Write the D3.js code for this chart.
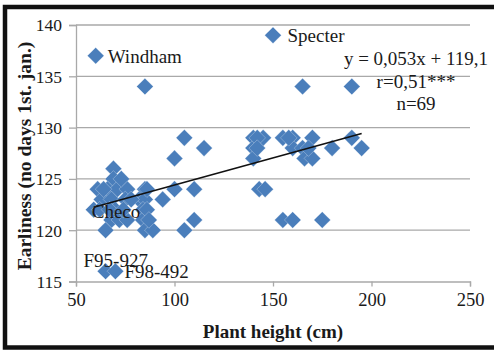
<!DOCTYPE html>
<html>
<head>
<meta charset="utf-8">
<script src="https://cdn.jsdelivr.net/npm/d3@7"></script>
<style>
  html, body { margin: 0; padding: 0; background: #fff; }
  svg { display: block; }
  text { font-family: "Liberation Serif", "Times New Roman", serif; fill: #1a1a1a; }
</style>
</head>
<body>
<svg id="chart" width="494" height="351"></svg>
<script>
// Plant height (cm) and earliness (days from 1 January) per genotype
const heights = [
  60, 150, 59, 65, 70,
  69, 69, 61, 66, 71, 76, 63, 68, 75, 70, 68, 72, 76, 65,
  82, 85, 85, 84, 84, 85, 89, 85,
  94, 100, 100, 105, 115, 110, 110, 105,
  140, 145, 140, 140, 143, 146,
  155, 160, 170, 190, 160, 165, 180, 195, 166, 170, 155, 160, 175, 165, 190,
  142, 142, 158, 168, 64, 73, 78, 86, 62, 67, 74, 87, 86
];
const earliness = [
  137, 139, 122, 116, 116,
  126, 125, 124, 124, 124, 124, 123, 123, 123, 122, 121, 121, 121, 120,
  123, 124, 123, 122, 121, 120, 120, 134,
  123, 124, 127, 129, 128, 124, 121, 120,
  129, 129, 128, 127, 124, 124,
  129, 129, 129, 129, 128, 128, 128, 128, 127, 127, 121, 121, 121, 134, 134,
  129, 128, 129, 128, 124, 125, 123, 122, 122, 122, 122, 121, 124
];
// Names shown next to selected genotypes (same order as the first entries above)
const names = ["Windham", "Specter", "Checo", "F95-927", "F98-492"];

// Linear regression reported on the chart
const slope = 0.053;
const intercept = 119.1;
const statLines = ["y = 0,053x + 119,1", "r=0,51***", "n=69"];

const xTicks = [50, 100, 150, 200, 250];
const yTicks = [115, 120, 125, 130, 135, 140];
const xTitle = "Plant height (cm)";
const yTitle = "Earliness (no days 1st. jan.)";

const svg = d3.select("#chart");
const x = d3.scaleLinear().domain([50, 250]).range([76, 470]);
const y = d3.scaleLinear().domain([115, 140]).range([281.5, 25]);

const grid = "#a9a9a9";

// outer frame
svg.append("rect")
  .attr("x", 5).attr("y", 7).attr("width", 495).attr("height", 340.5)
  .attr("fill", "none").attr("stroke", "#111").attr("stroke-width", 4.5);

// horizontal gridlines
svg.append("g").selectAll("line")
  .data(yTicks.slice(1))
  .join("line")
  .attr("x1", x(50)).attr("x2", x(250))
  .attr("y1", d => y(d)).attr("y2", d => y(d))
  .attr("stroke", grid).attr("stroke-width", 1.3);

// axes
const xAxis = svg.append("g")
  .attr("transform", `translate(0,${y(115)})`)
  .call(d3.axisBottom(x).tickValues(xTicks).tickSize(5).tickPadding(6).tickFormat(d3.format("d")));
const yAxis = svg.append("g")
  .attr("transform", `translate(${x(50)},0)`)
  .call(d3.axisLeft(y).tickValues(yTicks).tickSize(7).tickPadding(7).tickFormat(d3.format("d")));

[xAxis, yAxis].forEach(g => {
  g.select(".domain").attr("stroke", grid).attr("stroke-width", 1.3);
  g.selectAll(".tick line").attr("stroke", grid).attr("stroke-width", 1.3);
  g.selectAll(".tick text")
    .attr("fill", "#1a1a1a")
    .style("font-family", '"Liberation Serif", "Times New Roman", serif');
});
xAxis.selectAll(".tick text").style("font-size", "18.5px");
yAxis.selectAll(".tick text").style("font-size", "17.5px").attr("dy", "0.34em");

// data points (diamonds)
const pts = heights.map((h, i) => ({ h, e: earliness[i] }));
const r = 8.3;
svg.append("g").selectAll("path")
  .data(pts)
  .join("path")
  .attr("d", `M0,${-r}L${r},0L0,${r}L${-r},0Z`)
  .attr("transform", d => `translate(${x(d.h)},${y(d.e)})`)
  .attr("fill", "#4a7ebb")
  .attr("stroke", "rgba(255,255,255,0.55)")
  .attr("stroke-width", 0.5);

// regression line over the observed height range
const xr = d3.extent(heights);
svg.append("line")
  .attr("x1", x(xr[0])).attr("y1", y(slope * xr[0] + intercept))
  .attr("x2", x(xr[1])).attr("y2", y(slope * xr[1] + intercept))
  .attr("stroke", "#111").attr("stroke-width", 1.6);

// genotype labels
const labelOffset = {
  "Windham": [12, 7],
  "Specter": [14.5, 7],
  "Checo": [-2, 8],
  "F95-927": [-22, -4],
  "F98-492": [9, 7]
};
svg.append("g").selectAll("text")
  .data(names)
  .join("text")
  .attr("x", (d, i) => x(heights[i]) + labelOffset[d][0])
  .attr("y", (d, i) => y(earliness[i]) + labelOffset[d][1])
  .style("font-size", "19px")
  .text(d => d);

// regression statistics
svg.append("g").selectAll("text")
  .data(statLines)
  .join("text")
  .attr("x", 416)
  .attr("y", (d, i) => 65 + i * 22.5)
  .attr("text-anchor", "middle")
  .style("font-size", "19px")
  .text(d => d);

// axis titles
svg.append("text")
  .attr("x", 273).attr("y", 338)
  .attr("text-anchor", "middle")
  .style("font-size", "19px").style("font-weight", "bold")
  .text(xTitle);
svg.append("text")
  .attr("transform", "translate(31,156) rotate(-90)")
  .attr("text-anchor", "middle")
  .style("font-size", "19.5px").style("font-weight", "bold")
  .text(yTitle);
</script>
</body>
</html>
